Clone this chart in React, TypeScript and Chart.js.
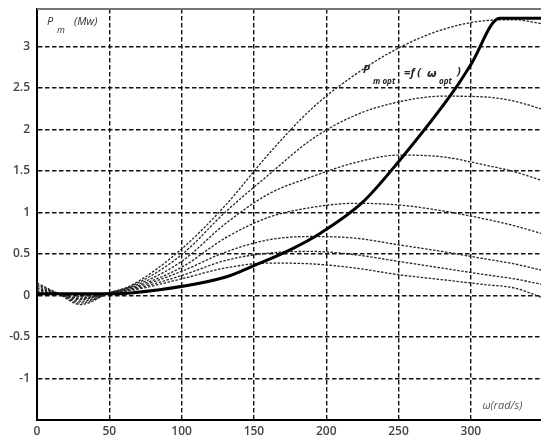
import React, { useEffect, useRef } from "react";
import { Chart, registerables } from "chart.js";

Chart.register(...registerables);

// shared speed grid (rad/s) for the family of power curves
const omega = [0, 15, 30, 50, 65, 100, 130, 160, 190, 220, 250, 280, 310, 330, 350];

const curve1 = [0.15, 0.02, -0.11, 0.03, 0.12, 0.56, 1.08, 1.70, 2.25, 2.66, 2.98, 3.20, 3.31, 3.32, 3.27];
const curve2 = [0.13, 0.02, -0.09, 0.03, 0.11, 0.49, 1.00, 1.45, 1.88, 2.17, 2.33, 2.40, 2.39, 2.34, 2.24];
const curve3 = [0.11, 0.02, -0.07, 0.03, 0.10, 0.41, 0.86, 1.22, 1.43, 1.60, 1.69, 1.67, 1.57, 1.49, 1.38];
const curve4 = [0.09, 0.02, -0.05, 0.03, 0.09, 0.34, 0.69, 0.94, 1.06, 1.11, 1.09, 1.02, 0.92, 0.84, 0.74];
const curve5 = [0.07, 0.02, -0.04, 0.03, 0.08, 0.29, 0.52, 0.67, 0.71, 0.69, 0.61, 0.53, 0.44, 0.38, 0.30];
const curve6 = [0.05, 0.02, -0.03, 0.03, 0.07, 0.24, 0.42, 0.51, 0.53, 0.49, 0.41, 0.33, 0.25, 0.20, 0.13];
const curve7 = [0.03, 0.02, -0.01, 0.03, 0.06, 0.20, 0.33, 0.39, 0.38, 0.33, 0.25, 0.19, 0.13, 0.09, -0.03];
const curves = [curve1, curve2, curve3, curve4, curve5, curve6, curve7];

// optimal power curve P_mopt = f(omega_opt)
const optOmega = [0, 50, 65, 130, 150, 175, 196, 225, 249, 288, 300, 320, 350];
const optPower = [0.02, 0.02, 0.03, 0.22, 0.36, 0.55, 0.75, 1.12, 1.59, 2.46, 2.78, 3.34, 3.34];

const xTicks = [0, 50, 100, 150, 200, 250, 300];
const yTicks = [-1, -0.5, 0, 0.5, 1, 1.5, 2, 2.5, 3];

const overlay = {
  id: "overlay",
  afterDraw(chart: any) {
    const { ctx, chartArea } = chart;
    const xs = chart.scales.x;
    const ys = chart.scales.y;
    ctx.save();
    ctx.strokeStyle = "#777";
    ctx.lineWidth = 2;
    ctx.beginPath();
    ctx.moveTo(chartArea.left, chartArea.top);
    ctx.lineTo(chartArea.right, chartArea.top);
    ctx.stroke();

    ctx.fillStyle = "#333";
    ctx.textBaseline = "alphabetic";
    ctx.textAlign = "left";
    // P_m (Mw)
    const px = chartArea.left + 10;
    const py = chartArea.top + 16;
    ctx.font = "italic 11px 'Open Sans'";
    ctx.fillText("P", px, py);
    ctx.font = "italic 9px 'Open Sans'";
    ctx.fillText("m", px + 10, py + 8);
    ctx.font = "italic 11px 'Open Sans'";
    ctx.fillText("(Mw)", px + 27, py);

    // P_mopt = f(omega_opt)
    const ax = xs.getPixelForValue(225.5);
    const ay = ys.getPixelForValue(2.68);
    ctx.fillStyle = "#222";
    ctx.font = "italic bold 11px 'Open Sans'";
    ctx.fillText("P", ax, ay);
    ctx.font = "italic bold 8px 'Open Sans'";
    ctx.fillText("m opt", ax + 10, ay + 11);
    ctx.font = "italic bold 11px 'Open Sans'";
    ctx.fillText("=f (", ax + 41, ay + 3);
    ctx.font = "italic bold 11px 'DejaVu Sans'";
    ctx.fillText("ω", ax + 64, ay + 4);
    ctx.font = "italic bold 8px 'Open Sans'";
    ctx.fillText("opt", ax + 76, ay + 11);
    ctx.font = "italic bold 11px 'Open Sans'";
    ctx.fillText(")", ax + 94, ay + 2);

    // axis title
    ctx.fillStyle = "#555";
    ctx.font = "italic 11px 'Open Sans'";
    const bx = xs.getPixelForValue(308);
    const by = chartArea.bottom - 11;
    ctx.fillText("ω(rad/s)", bx, by);
    ctx.restore();
  },
};

export default function App() {
  const ref = useRef<HTMLCanvasElement | null>(null);
  useEffect(() => {
    if (!ref.current) return;
    const family = curves.map((c, i) => ({
      label: "curve" + (i + 1),
      data: omega.map((w, j) => ({ x: w, y: c[j] })),
      borderColor: "#262626",
      borderWidth: 1.3,
      borderDash: [2.5, 1.5],
      pointRadius: 0,
      cubicInterpolationMode: "monotone" as const,
      fill: false,
    }));
    const chart = new Chart(ref.current, {
      type: "line",
      data: {
        datasets: [
          {
            label: "Pmopt",
            data: optOmega.map((w, j) => ({ x: w, y: optPower[j] })),
            borderColor: "#000",
            borderWidth: 3,
            pointRadius: 0,
            cubicInterpolationMode: "monotone",
            fill: false,
          },
          ...family,
        ],
      },
      options: {
        animation: false,
        responsive: true,
        maintainAspectRatio: false,
        layout: { padding: { top: 9, right: 0, left: 0, bottom: 0 } },
        plugins: { legend: { display: false }, tooltip: { enabled: false } },
        scales: {
          x: {
            type: "linear",
            min: 0,
            max: 348.5,
            afterBuildTicks: (s: any) => {
              s.ticks = xTicks.map((v) => ({ value: v }));
            },
            afterFit: (s: any) => {
              s.height = 16;
              s.paddingLeft = 0;
              s.paddingRight = 0;
            },
            grid: { color: "#111", lineWidth: 1.4, drawTicks: false },
            border: { display: true, color: "#000", width: 2, dash: [4.5, 2.5] },
            ticks: {
              padding: 4,
              color: "#444",
              font: { family: "'Open Sans'", size: 12, weight: "600" },
              maxRotation: 0,
              callback: (v: any) => String(v),
            },
          },
          y: {
            type: "linear",
            min: -1.5,
            max: 3.45,
            afterBuildTicks: (s: any) => {
              s.ticks = yTicks.map((v) => ({ value: v }));
            },
            afterFit: (s: any) => {
              s.width = 37;
              s.paddingTop = 0;
              s.paddingBottom = 0;
            },
            grid: { color: "#111", lineWidth: 1.4, drawTicks: false },
            border: { display: true, color: "#000", width: 2, dash: [4.5, 2.5] },
            ticks: {
              padding: 7,
              color: "#444",
              font: { family: "'Open Sans'", size: 12, weight: "600" },
              callback: (v: any) => String(v),
            },
          },
        },
      },
      plugins: [overlay],
    });
    return () => chart.destroy();
  }, []);
  return (
    <div style={{ position: "absolute", left: 0, top: 0, width: 541, height: 436, background: "#fff" }}>
      <canvas ref={ref} />
    </div>
  );
}
